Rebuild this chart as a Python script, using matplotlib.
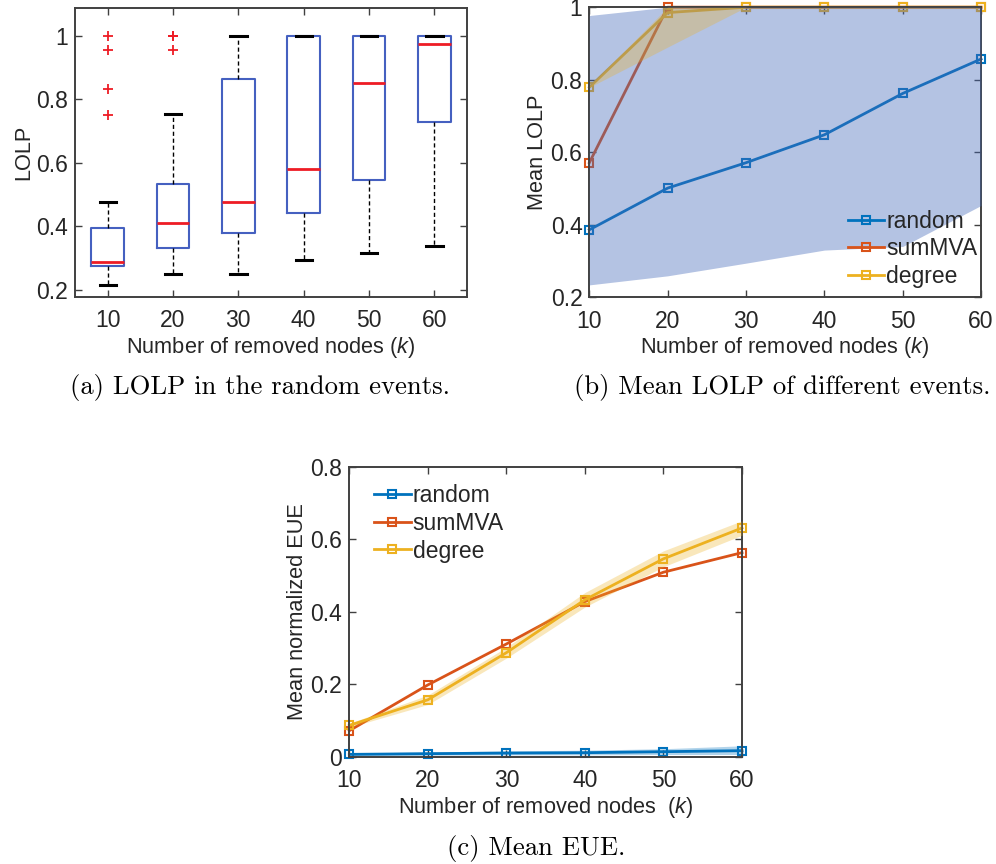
import matplotlib
matplotlib.use("Agg")
import matplotlib.pyplot as plt
import numpy as np

# ---------------- data ----------------
k_values = [10, 20, 30, 40, 50, 60]
k_labels = ["10", "20", "30", "40", "50", "60"]

# (a) boxplot statistics of LOLP in random events
box_whislo = [0.216, 0.250, 0.250, 0.295, 0.317, 0.338]
box_q1 = [0.276, 0.333, 0.378, 0.442, 0.546, 0.728]
box_med = [0.288, 0.412, 0.478, 0.581, 0.852, 0.975]
box_q3 = [0.396, 0.533, 0.863, 1.0, 1.0, 1.0]
box_whishi = [0.478, 0.755, 1.0, 1.0, 1.0, 1.0]
box_fliers = [[1.0, 0.955, 0.832, 0.752], [1.0, 1.0, 0.955], [], [], [], []]

# (b) mean LOLP
lolp_random = [0.386, 0.501, 0.571, 0.648, 0.762, 0.857]
lolp_summva = [0.571, 1.0, 1.0, 1.0, 1.0, 1.0]
lolp_degree = [0.779, 0.985, 1.0, 1.0, 1.0, 1.0]
lolp_random_lo = [0.234, 0.259, 0.294, 0.330, 0.340, 0.453]
lolp_random_hi = [0.977, 1.0, 1.0, 1.0, 1.0, 1.0]
lolp_degree_lo = [0.779, 0.890, 1.0, 1.0, 1.0, 1.0]
lolp_degree_hi = [0.782, 1.0, 1.0, 1.0, 1.0, 1.0]

# (c) mean normalized EUE
eue_random = [0.0064, 0.0083, 0.010, 0.011, 0.0138, 0.0166]
eue_summva = [0.0717, 0.198, 0.311, 0.428, 0.509, 0.563]
eue_degree = [0.0864, 0.157, 0.287, 0.433, 0.546, 0.631]
eue_degree_lo = [0.081, 0.144, 0.272, 0.413, 0.524, 0.611]
eue_degree_hi = [0.092, 0.170, 0.302, 0.453, 0.568, 0.651]
eue_random_lo = [0.003, 0.004, 0.005, 0.005, 0.006, 0.006]
eue_random_hi = [0.010, 0.013, 0.016, 0.018, 0.022, 0.030]

series_names = ["random", "sumMVA", "degree"]
series_colors = ["#0072BD", "#D95319", "#EDB120"]

# ---------------- style ----------------
plt.rcParams["font.family"] = ["Liberation Sans", "DejaVu Sans"]
plt.rcParams["mathtext.fontset"] = "custom"
plt.rcParams["mathtext.it"] = "Liberation Sans:italic"
plt.rcParams["mathtext.rm"] = "Liberation Sans"
TXT = "#262626"
SPINE = "#404040"
TICK_FS = 16.5
LAB_FS = 15.7
LEG_FS = 16.5

fig = plt.figure(figsize=(9.96, 8.64), dpi=100)


def style_axes(ax):
    for s in ax.spines.values():
        s.set_color(SPINE)
        s.set_linewidth(1.4)
    ax.tick_params(direction="in", top=True, right=True, length=5, width=1.0,
                   color=SPINE, labelcolor=TXT, labelsize=TICK_FS)
    ax.tick_params(axis="x", pad=9)
    ax.tick_params(axis="y", pad=5)


def fmt_tick(v):
    if abs(v - round(v)) < 1e-9:
        return str(int(round(v)))
    return ("%.1f" % v)


# ---------------- (a) ----------------
axa = fig.add_axes([0.0753, 0.6563, 0.3936, 0.3345])
stats = []
for i in range(len(k_values)):
    stats.append(dict(med=box_med[i], q1=box_q1[i], q3=box_q3[i],
                      whislo=box_whislo[i], whishi=box_whishi[i],
                      fliers=box_fliers[i]))
positions = np.arange(1, len(k_values) + 1)
axa.bxp(stats, positions=positions, widths=0.5, capwidths=0.25,
        showfliers=True,
        boxprops=dict(color="#4560c0", linewidth=1.5),
        medianprops=dict(color="#ee1c25", linewidth=2.0),
        whiskerprops=dict(color="black", linewidth=1.0, linestyle=(0, (3, 2))),
        capprops=dict(color="black", linewidth=2.2),
        flierprops=dict(marker="+", markeredgecolor="#ee1c25", markersize=7,
                        markeredgewidth=1.3, linestyle="none"))
axa.set_xlim(0.5, 6.5)
axa.set_ylim(0.178, 1.088)
axa.set_xticks(positions)
axa.set_xticklabels(k_labels)
yt = [0.2, 0.4, 0.6, 0.8, 1.0]
axa.set_yticks(yt)
axa.set_yticklabels([fmt_tick(v) for v in yt])
axa.set_xlabel("Number of removed nodes ($k$)", fontsize=LAB_FS, color=TXT, labelpad=2)
axa.set_ylabel("LOLP", fontsize=LAB_FS, color=TXT, labelpad=1.5)
style_axes(axa)

# ---------------- (b) ----------------
axb = fig.add_axes([0.5917, 0.6560, 0.3933, 0.3357])
line_data_b = [lolp_random, lolp_summva, lolp_degree]
handles = []
for name, col, ys in zip(series_names, series_colors, line_data_b):
    h, = axb.plot(k_values, ys, color=col, linewidth=2.0, marker="s",
                  markersize=6, markerfacecolor="none", markeredgewidth=1.5,
                  label=name, zorder=2, clip_on=False)
    handles.append(h)
axb.fill_between(k_values, lolp_random_lo, lolp_random_hi,
                 color=(68 / 255, 105 / 255, 185 / 255), alpha=0.4,
                 linewidth=0, zorder=3)
axb.fill_between(k_values, lolp_degree_lo, lolp_degree_hi,
                 color=series_colors[2], alpha=0.3, linewidth=0, zorder=4)
axb.set_xlim(10, 60)
axb.set_ylim(0.2, 1.0)
axb.set_xticks(k_values)
axb.set_xticklabels(k_labels)
axb.set_yticks(yt)
axb.set_yticklabels([fmt_tick(v) for v in yt])
axb.set_xlabel("Number of removed nodes ($k$)", fontsize=LAB_FS, color=TXT, labelpad=2)
axb.set_ylabel("Mean LOLP", fontsize=LAB_FS, color=TXT, labelpad=1.5)
style_axes(axb)
legb = axb.legend(handles=handles, loc="lower right", frameon=False,
                  bbox_to_anchor=(1.0, 0.02),
                  fontsize=LEG_FS, handlelength=1.6, handletextpad=0.1,
                  labelspacing=0.2, borderaxespad=0.0, borderpad=0.15)
for t in legb.get_texts():
    t.set_color(TXT)

# ---------------- (c) ----------------
axc = fig.add_axes([0.3507, 0.1242, 0.3943, 0.3356])
line_data_c = [eue_random, eue_summva, eue_degree]
handles = []
for name, col, ys in zip(series_names, series_colors, line_data_c):
    h, = axc.plot(k_values, ys, color=col, linewidth=2.0, marker="s",
                  markersize=6, markerfacecolor="none", markeredgewidth=1.5,
                  label=name, zorder=2, clip_on=False)
    handles.append(h)
axc.fill_between(k_values, eue_random_lo, eue_random_hi,
                 color=series_colors[0], alpha=0.3, linewidth=0, zorder=3)
axc.fill_between(k_values, eue_degree_lo, eue_degree_hi,
                 color=series_colors[2], alpha=0.3, linewidth=0, zorder=3)
axc.set_xlim(10, 60)
axc.set_ylim(0, 0.8)
axc.set_xticks(k_values)
axc.set_xticklabels(k_labels)
ytc = [0, 0.2, 0.4, 0.6, 0.8]
axc.set_yticks(ytc)
axc.set_yticklabels([fmt_tick(v) for v in ytc])
axc.set_xlabel("Number of removed nodes  ($k$)", fontsize=LAB_FS, color=TXT, labelpad=2)
axc.set_ylabel("Mean normalized EUE", fontsize=LAB_FS, color=TXT, labelpad=1.5)
style_axes(axc)
legc = axc.legend(handles=handles, loc="upper left", frameon=False,
                  bbox_to_anchor=(0.045, 0.963),
                  fontsize=LEG_FS, handlelength=1.6, handletextpad=0.1,
                  labelspacing=0.2, borderaxespad=0.0, borderpad=0.3)
for t in legc.get_texts():
    t.set_color(TXT)

# ---------------- captions ----------------
cap_kw = dict(fontsize=19.2, family="cmr10", ha="center", va="center", color="black")
fig.text(260 / 996, 1 - 387 / 864, "(a) LOLP in the random events.", **cap_kw)
fig.text(782 / 996, 1 - 387 / 864, "(b) Mean LOLP of different events.", **cap_kw)
fig.text(536 / 996, 1 - 848 / 864, "(c) Mean EUE.", **cap_kw)

fig.savefig("out.png", dpi=100)
